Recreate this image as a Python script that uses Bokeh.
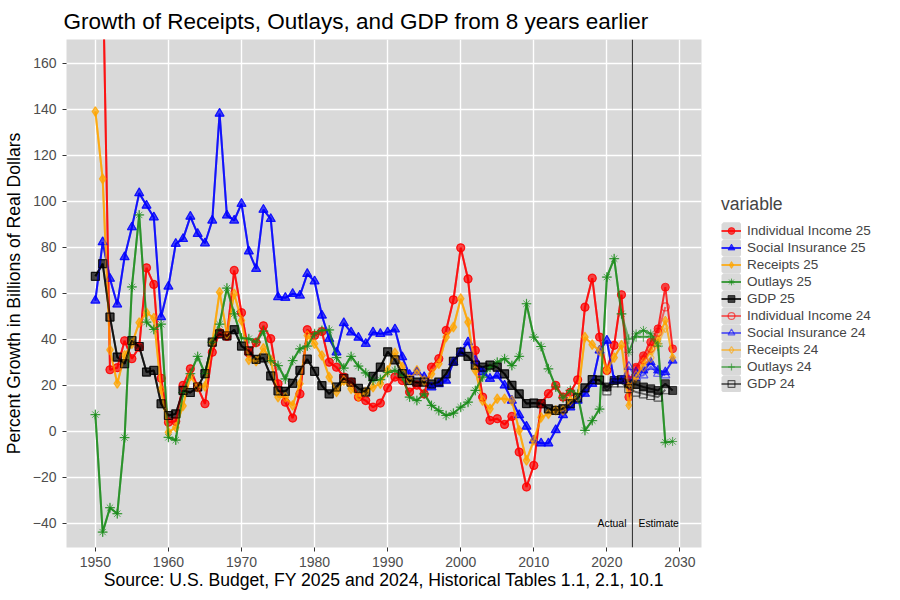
from bokeh.plotting import figure
from bokeh.models import Span, Legend, LegendItem, Label
from bokeh.embed import file_html
from bokeh.resources import INLINE

NaN = float("nan")
FONT = "Liberation Sans"

years25 = list(range(1950, 2030))
years24 = list(range(1950, 2029))

# FY 2025 budget series (1950-2029)
inc25 = [NaN, 205, 26.7, 27.6, 39.3, 31.5, 36.5, 71.0, 63.8, 23.0,
         3.9, 4.3, 19.9, 27.1, 19.1, 11.9, 34.3, 42.8, 41.2, 69.9,
         51.5, 34.0, 38.5, 45.8, 40.2, 20.6, 12.6, 5.7, 16.2, 44.1,
         41.6, 43.3, 30.0, 27.8, 23.5, 21.3, 14.8, 13.3, 10.4, 12.2,
         18.8, 23.5, 22.0, 17.0, 20.0, 16.2, 27.8, 31.5, 43.8, 57.1,
         79.7, 66.2, 35.1, 14.8, 4.7, 5.4, 2.9, 6.4, -9.1, -24.3,
         -14.9, 12.0, 16.3, 19.9, 14.8, 16.9, 22.3, 53.9, 66.5, 40.9,
         26.4, 37.3, 59.3, 14.8, 27.8, 32.8, 38.7, 44.5, 62.6, 35.8]
soc25 = [56.8, 82.2, 66.3, 55.1, 75.7, 88.7, 103.5, 98.1, 93.0, 49.6,
         62.9, 81.5, 83.6, 93.3, 85.8, 81.7, 91.6, 138.1, 93.8, 91.6,
         98.9, 78.2, 70.6, 96.3, 92.3, 58.3, 58.0, 59.7, 59.0, 68.4,
         65.2, 50.3, 40.2, 34.3, 47.0, 43.0, 40.7, 38.0, 43.0, 42.3,
         43.0, 44.3, 32.2, 24.5, 25.7, 23.5, 19.1, 20.5, 22.0, 30.0,
         34.3, 38.7, 30.7, 25.7, 22.8, 24.2, 19.9, 13.3, 7.0, 2.0,
         -4.0, -5.3, -5.3, 0.5, 7.0, 10.4, 13.3, 16.3, 20.6, 35.1,
         39.4, 22.0, 22.0, 22.3, 25.7, 26.4, 30.0, 26.4, 25.7, 30.7]
rec25 = [139.0, 109.7, 35.3, 20.7, 33.0, 38.0, 47.2, 51.5, 49.2, 18.0,
         -0.5, 1.7, 11.0, 24.0, 19.1, 19.5, 38.5, 60.4, 42.3, 59.7,
         48.1, 31.0, 30.4, 36.0, 31.0, 14.8, 14.8, 11.2, 20.6, 41.6,
         38.0, 32.9, 23.5, 17.0, 22.0, 18.4, 15.0, 17.0, 19.1, 20.6,
         26.4, 34.0, 28.0, 22.5, 26.4, 22.0, 24.9, 29.3, 40.9, 45.2,
         57.6, 47.4, 26.4, 13.3, 9.7, 14.1, 14.1, 13.3, 0.3, -12.7,
         -4.0, 6.0, 7.5, 9.0, 9.0, 13.3, 14.8, 40.9, 37.6, 35.0,
         26.5, 32.0, 37.4, 11.2, 23.0, 30.0, 35.0, 40.0, 48.1, 32.0]
out25 = [7.2, -43.9, -33.3, -35.9, -2.8, 62.7, 94.0, 47.4, 44.2, 46.5,
         -2.7, -3.9, 16.8, 25.0, 32.5, 25.0, 38.6, 46.5, 62.2, 51.0,
         40.5, 40.2, 38.7, 43.5, 30.7, 28.5, 22.7, 30.7, 35.8, 37.0,
         42.3, 43.8, 44.0, 32.0, 27.4, 32.5, 28.3, 25.3, 22.0, 22.4,
         25.5, 26.4, 24.0, 14.8, 13.3, 16.2, 11.2, 8.9, 6.8, 7.8,
         10.4, 12.6, 17.7, 23.5, 27.8, 30.0, 31.5, 28.5, 32.5, 55.4,
         40.9, 36.8, 27.1, 19.2, 14.5, 17.7, 16.0, 0.3, 4.6, 9.6,
         67.0, 75.0, 51.0, 34.3, 42.3, 43.8, 42.3, 38.0, -4.8, -4.5]
gdp25 = [67.3, 72.8, 49.6, 32.2, 29.3, 39.4, 36.8, 25.7, 26.4, 11.9,
         6.8, 7.5, 17.7, 16.8, 19.2, 25.0, 38.7, 42.3, 41.4, 44.1,
         37.0, 34.9, 31.2, 31.8, 24.0, 17.5, 17.3, 20.8, 26.4, 31.3,
         26.0, 19.8, 16.2, 19.2, 23.0, 21.3, 18.6, 17.0, 23.8, 27.8,
         34.5, 31.0, 25.0, 22.0, 21.3, 21.3, 20.5, 21.3, 24.9, 30.4,
         34.4, 32.5, 28.7, 27.8, 28.7, 27.8, 24.9, 19.9, 16.2, 12.0,
         12.2, 11.9, 9.7, 9.0, 9.7, 11.9, 14.5, 18.8, 22.4, 22.2,
         19.2, 22.0, 22.4, 20.6, 20.3, 19.2, 18.4, 17.7, 20.6, 17.7]

# FY 2024 budget series (1950-2028)
inc24 = [NaN, 205, 26.7, 27.6, 39.3, 31.5, 36.5, 71.0, 63.8, 23.0,
         3.9, 4.3, 19.9, 27.1, 19.1, 11.9, 34.3, 42.8, 41.2, 69.9,
         51.5, 34.0, 38.5, 45.8, 40.2, 20.6, 12.6, 5.7, 16.2, 44.1,
         41.6, 43.3, 30.0, 27.8, 23.5, 21.3, 14.8, 13.3, 10.4, 12.2,
         18.8, 23.5, 22.0, 17.0, 20.0, 16.2, 27.8, 31.5, 43.8, 57.1,
         79.7, 66.2, 35.1, 14.8, 4.7, 5.4, 2.9, 6.4, -9.1, -24.3,
         -14.9, 12.0, 16.3, 19.9, 14.8, 16.9, 22.3, 53.9, 66.5, 40.9,
         26.4, 37.3, 59.3, 22.0, 27.0, 31.0, 36.0, 43.0, 54.0]
soc24 = [56.8, 82.2, 66.3, 55.1, 75.7, 88.7, 103.5, 98.1, 93.0, 49.6,
         62.9, 81.5, 83.6, 93.3, 85.8, 81.7, 91.6, 138.1, 93.8, 91.6,
         98.9, 78.2, 70.6, 96.3, 92.3, 58.3, 58.0, 59.7, 59.0, 68.4,
         65.2, 50.3, 40.2, 34.3, 47.0, 43.0, 40.7, 38.0, 43.0, 42.3,
         43.0, 44.3, 32.2, 24.5, 25.7, 23.5, 19.1, 20.5, 22.0, 30.0,
         34.3, 38.7, 30.7, 25.7, 22.8, 24.2, 19.9, 13.3, 7.0, 2.0,
         -4.0, -5.3, -5.3, 0.5, 7.0, 10.4, 13.3, 16.3, 20.6, 35.1,
         39.4, 22.0, 22.0, 28.0, 23.4, 24.3, 28.0, 25.0, 24.3]
rec24 = [139.0, 109.7, 35.3, 20.7, 33.0, 38.0, 47.2, 51.5, 49.2, 18.0,
         -0.5, 1.7, 11.0, 24.0, 19.1, 19.5, 38.5, 60.4, 42.3, 59.7,
         48.1, 31.0, 30.4, 36.0, 31.0, 14.8, 14.8, 11.2, 20.6, 41.6,
         38.0, 32.9, 23.5, 17.0, 22.0, 18.4, 15.0, 17.0, 19.1, 20.6,
         26.4, 34.0, 28.0, 22.5, 26.4, 22.0, 24.9, 29.3, 40.9, 45.2,
         57.6, 47.4, 26.4, 13.3, 9.7, 14.1, 14.1, 13.3, 0.3, -12.7,
         -4.0, 6.0, 7.5, 9.0, 9.0, 13.3, 14.8, 40.9, 37.6, 35.0,
         26.5, 32.0, 37.4, 19.0, 24.0, 28.0, 32.0, 38.0, 45.0]
out24 = [7.2, -43.9, -33.3, -35.9, -2.8, 62.7, 94.0, 47.4, 44.2, 46.5,
         -2.7, -3.9, 16.8, 25.0, 32.5, 25.0, 38.6, 46.5, 62.2, 51.0,
         40.5, 40.2, 38.7, 43.5, 30.7, 28.5, 22.7, 30.7, 35.8, 37.0,
         42.3, 43.8, 44.0, 32.0, 27.4, 32.5, 28.3, 25.3, 22.0, 22.4,
         25.5, 26.4, 24.0, 14.8, 13.3, 16.2, 11.2, 8.9, 6.8, 7.8,
         10.4, 12.6, 17.7, 23.5, 27.8, 30.0, 31.5, 28.5, 32.5, 55.4,
         40.9, 36.8, 27.1, 19.2, 14.5, 17.7, 16.0, 0.3, 4.6, 9.6,
         67.0, 75.0, 51.0, 40.0, 41.0, 41.0, 41.0, 37.0, -5.0]
gdp24 = [67.3, 72.8, 49.6, 32.2, 29.3, 39.4, 36.8, 25.7, 26.4, 11.9,
         6.8, 7.5, 17.7, 16.8, 19.2, 25.0, 38.7, 42.3, 41.4, 44.1,
         37.0, 34.9, 31.2, 31.8, 24.0, 17.5, 17.3, 20.8, 26.4, 31.3,
         26.0, 19.8, 16.2, 19.2, 23.0, 21.3, 18.6, 17.0, 23.8, 27.8,
         34.5, 31.0, 25.0, 22.0, 21.3, 21.3, 20.5, 21.3, 24.9, 30.4,
         34.4, 32.5, 28.7, 27.8, 28.7, 27.8, 24.9, 19.9, 16.2, 12.0,
         12.2, 11.9, 9.7, 9.0, 9.7, 11.9, 14.5, 18.8, 22.4, 22.2,
         17.5, 21.0, 21.0, 18.5, 17.0, 16.2, 15.5, 14.8, 18.0]

labels = ["Individual Income 25", "Social Insurance 25", "Receipts 25", "Outlays 25", "GDP 25",
          "Individual Income 24", "Social Insurance 24", "Receipts 24", "Outlays 24", "GDP 24"]
x_ticks = [1950, 1960, 1970, 1980, 1990, 2000, 2010, 2020, 2030]
y_ticks = [-40, -20, 0, 20, 40, 60, 80, 100, 120, 140, 160]
boundary_year = 2023.5

PANEL = "#D9D9D9"

series = [
    (labels[0], years25, inc25, "#FF0000", "circle", True, 8),
    (labels[1], years25, soc25, "#0000FF", "triangle", True, 9),
    (labels[2], years25, rec25, "#FFA500", "diamond", True, 9),
    (labels[3], years25, out25, "#1A8C1A", "asterisk", True, 9),
    (labels[4], years25, gdp25, "#000000", "square", True, 8),
    (labels[5], years24, inc24, "#FF0000", "circle", False, 8),
    (labels[6], years24, soc24, "#0000FF", "triangle", False, 9),
    (labels[7], years24, rec24, "#FFA500", "diamond", False, 10),
    (labels[8], years24, out24, "#1A8C1A", "cross", False, 10),
    (labels[9], years24, gdp24, "#000000", "square", False, 8),
]

p = figure(frame_width=635, frame_height=508,
           x_range=(1946.05, 2032.95), y_range=(-50.6, 170.3),
           output_backend="svg", toolbar_location=None,
           background_fill_color=PANEL, border_fill_color="white",
           min_border_left=55, min_border_top=31, min_border_bottom=45, min_border_right=0)
p.outline_line_color = None

p.title.text = "Growth of Receipts, Outlays, and GDP from 8 years earlier"
p.title.text_font = FONT
p.title.text_font_size = "22.5px"
p.title.text_font_style = "normal"
p.title.text_color = "black"
p.title.align = "left"
p.title.standoff = 12
p.title.offset = -3

for ax in (p.xaxis[0], p.yaxis[0]):
    ax.axis_line_color = None
    ax.major_tick_out = 4
    ax.major_tick_in = 0
    ax.minor_tick_out = 0
    ax.minor_tick_in = 0
    ax.major_tick_line_color = "#333333"
    ax.major_label_text_color = "#4D4D4D"
    ax.major_label_text_font = FONT
    ax.major_label_text_font_size = "14px"
    ax.axis_label_text_font = FONT
    ax.axis_label_text_font_size = "17.6px"
    ax.axis_label_text_font_style = "normal"
    ax.axis_label_text_color = "black"

p.xaxis.major_label_standoff = 5
p.yaxis.major_label_standoff = 6
p.xaxis.axis_label_standoff = 0
p.yaxis.axis_label_standoff = 6
p.xaxis.ticker = x_ticks
p.yaxis.ticker = y_ticks
p.xaxis.axis_label = "Source: U.S. Budget, FY 2025 and 2024, Historical Tables 1.1, 2.1, 10.1"
p.yaxis.axis_label = "Percent Growth in Billions of Real Dollars"

for g in (p.xgrid[0], p.ygrid[0]):
    g.grid_line_color = "white"
    g.grid_line_width = 1.4

# legend key background: a styling-only quad placed outside the visible x range
key_bg = p.quad(left=[1800], right=[1801], top=[0], bottom=[-1],
                fill_color=PANEL, line_color=PANEL, line_width=4)

items = []
for label, xs, ys, color, marker, filled, size in series:
    alpha = 0.8 if filled else 0.55
    ln = p.line(xs, ys, line_color=color, line_width=2, line_alpha=alpha)
    if filled:
        sc = p.scatter(xs, ys, marker=marker, size=size, line_color=color, fill_color=color,
                       line_alpha=0.7, fill_alpha=0.7, line_width=1)
    else:
        sc = p.scatter(xs, ys, marker=marker, size=size, line_color=color, fill_alpha=0,
                       line_alpha=0.6, line_width=1.2)
    items.append(LegendItem(label=label, renderers=[key_bg, ln, sc]))

p.add_layout(Span(location=boundary_year, dimension="height", line_color="#3A3A3A", line_width=1.1))
p.add_layout(Label(x=boundary_year, y=-40, x_offset=-6, text="Actual", text_align="right",
                   text_baseline="middle", text_font=FONT, text_font_size="10.4px", text_color="black"))
p.add_layout(Label(x=boundary_year, y=-40, x_offset=6, text="Estimate", text_align="left",
                   text_baseline="middle", text_font=FONT, text_font_size="10.4px", text_color="black"))

legend = Legend(items=items, location="center_left", title="variable")
legend.title_text_font = FONT
legend.title_text_font_size = "17.6px"
legend.title_text_font_style = "normal"
legend.title_standoff = 7
legend.label_text_font = FONT
legend.label_text_font_size = "13.5px"
legend.glyph_width = 20
legend.glyph_height = 17
legend.label_height = 17
legend.spacing = 0
legend.padding = 0
legend.margin = 20
legend.label_standoff = 6
legend.background_fill_alpha = 0
legend.border_line_color = None
p.add_layout(legend, "right")

open("out.html", "w").write(file_html(p, INLINE))
